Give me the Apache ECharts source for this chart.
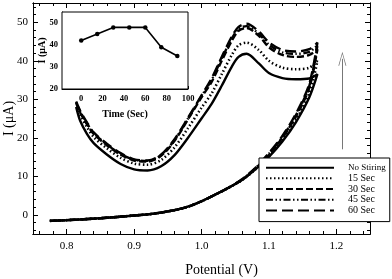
<!DOCTYPE html>
<html>
<head>
<meta charset="utf-8">
<script src="https://cdn.jsdelivr.net/npm/echarts@6/dist/echarts.min.js"></script>
<style>html,body{margin:0;padding:0;background:#fff}#c{width:392px;height:279px}</style>
</head>
<body>
<div id="c"></div>
<script>
// ---- data ----
const seriesNames = ['No Stiring', '15 Sec', '30 Sec', '45 Sec', '60 Sec'];
const forwardPotential = [0.775, 0.80, 0.85, 0.90, 0.93, 0.96, 0.98, 1.00, 1.02, 1.04, 1.06, 1.08, 1.10, 1.12, 1.14, 1.16];
const reversePotential = [1.172, 1.16, 1.14, 1.12, 1.10, 1.085, 1.067, 1.055, 1.045, 1.03, 1.015, 1.00, 0.98, 0.96, 0.94, 0.92, 0.90, 0.88, 0.86, 0.84, 0.83, 0.82, 0.814];

const noStiringForward = [-1.6, -1.4, -0.9, -0.2, 0.3, 1.2, 2.1, 3.5, 5.2, 7.0, 9.0, 11.8, 15.0, 19.0, 24.0, 30.5];
const sec15Forward     = [-1.6, -1.4, -0.9, -0.2, 0.3, 1.2, 2.1, 3.5, 5.2, 7.0, 9.0, 11.8, 15.2, 19.4, 24.6, 31.5];
const sec30Forward     = [-1.6, -1.4, -0.9, -0.2, 0.3, 1.2, 2.1, 3.5, 5.2, 7.0, 9.1, 12.0, 15.6, 20.0, 25.5, 33.0];
const sec45Forward     = [-1.6, -1.4, -0.9, -0.2, 0.3, 1.2, 2.1, 3.5, 5.2, 7.0, 9.1, 12.1, 15.8, 20.2, 25.8, 33.5];
const sec60Forward     = [-1.6, -1.4, -0.9, -0.2, 0.3, 1.2, 2.1, 3.5, 5.2, 7.0, 9.2, 12.2, 16.0, 20.5, 26.2, 34.0];

const noStiringReverse = [36.5, 35.4, 35.2, 35.5, 36.8, 39.3, 41.8, 41.0, 38.5, 33.5, 28.8, 25.0, 20.0, 15.5, 12.6, 11.5, 11.8, 13.2, 15.6, 18.6, 21.0, 24.4, 28.0];
const sec15Reverse     = [40.0, 38.2, 37.8, 38.2, 40.0, 42.8, 44.7, 44.0, 41.5, 36.5, 31.5, 27.8, 22.5, 17.5, 14.2, 13.0, 13.3, 14.8, 17.2, 20.2, 22.8, 26.0, 28.6];
const sec30Reverse     = [43.0, 41.5, 41.0, 41.5, 43.5, 46.5, 48.5, 47.8, 45.2, 40.0, 34.5, 30.5, 24.8, 19.2, 15.3, 13.8, 14.1, 15.6, 18.0, 21.0, 23.5, 26.5, 29.0];
const sec45Reverse     = [44.0, 42.3, 41.8, 42.2, 44.2, 47.0, 49.0, 48.3, 45.8, 40.6, 35.0, 30.8, 25.0, 19.4, 15.5, 14.0, 14.3, 15.8, 18.2, 21.2, 23.8, 26.8, 29.2];
const sec60Reverse     = [44.7, 43.0, 42.4, 42.8, 44.8, 47.6, 49.6, 48.8, 46.3, 41.0, 35.4, 31.0, 25.2, 19.6, 15.6, 14.1, 14.4, 16.0, 18.4, 21.4, 24.0, 27.0, 29.4];

const potentialLabels = [0.8, 0.9, 1.0, 1.1, 1.2];
const potentialMinorTicks = [0.76, 0.78, 0.82, 0.84, 0.86, 0.88, 0.92, 0.94, 0.96, 0.98, 1.02, 1.04, 1.06, 1.08, 1.12, 1.14, 1.16, 1.18, 1.22, 1.24];
const currentLabels = [0, 10, 20, 30, 40, 50];
const currentMinorTicks = [-4, -2, 2, 4, 6, 8, 12, 14, 16, 18, 22, 24, 26, 28, 32, 34, 36, 38, 42, 44, 46, 48, 52, 54];

const insetTime = [0, 15, 30, 45, 60, 75, 90];
const insetCurrent = [42, 45, 48, 48, 48, 39, 35];
const insetTimeLabels = [0, 20, 40, 60, 80, 100];
const insetCurrentLabels = [20, 30, 40, 50];

const arrowPotential = 1.209;
const arrowCurrentRange = [17, 40.5];

// ---- chart ----
const serif = 'Liberation Serif';
const chart = echarts.init(document.getElementById('c'), null, {renderer: 'canvas'});

function pairs(xs, ys) { return xs.map((x, i) => [x, ys[i]]); }
function loop(fwd, rev) { return pairs(forwardPotential, fwd).concat(pairs(reversePotential, rev)); }

function mainX(position, ticks, len, labels) {
  return {
    type: 'value', gridIndex: 0, position: position, min: 0.75, max: 1.25,
    axisLine: {show: true, onZero: false, lineStyle: {color: '#000', width: 1}},
    axisTick: {show: true, inside: true, length: len, customValues: ticks, lineStyle: {color: '#000'}},
    axisLabel: labels ? {show: true, customValues: potentialLabels, color: '#000', fontFamily: serif, fontSize: 11, margin: 7,
      formatter: v => v.toFixed(1)} : {show: false},
    splitLine: {show: false},
    name: labels ? 'Potential (V)' : '', nameLocation: 'middle', nameGap: 29, nameMoveOverlap: false,
    nameTextStyle: {color: '#000', fontFamily: serif, fontSize: 14, padding: [0, 0, 0, 40]}
  };
}
function mainY(position, ticks, len, labels) {
  return {
    type: 'value', gridIndex: 0, position: position, min: -5, max: 55,
    axisLine: {show: true, onZero: false, lineStyle: {color: '#000', width: 1}},
    axisTick: {show: true, inside: true, length: len, customValues: ticks, lineStyle: {color: '#000'}},
    axisLabel: labels ? {show: true, customValues: currentLabels, color: '#000', fontFamily: serif, fontSize: 11, margin: 5} : {show: false},
    splitLine: {show: false},
    name: labels ? 'I (\u03bcA)' : '', nameLocation: 'middle', nameGap: 17, nameRotate: 90, nameMoveOverlap: false,
    nameTextStyle: {color: '#000', fontFamily: serif, fontSize: 14}
  };
}

const lineTypes = ['solid', [1.5, 2.5], [7, 3], [7, 2.5, 1.5, 2.5, 1.5, 2.5], [11, 5]];
const fwds = [noStiringForward, sec15Forward, sec30Forward, sec45Forward, sec60Forward];
const revs = [noStiringReverse, sec15Reverse, sec30Reverse, sec45Reverse, sec60Reverse];

const series = seriesNames.map((n, i) => ({
  name: n, type: 'line', xAxisIndex: 0, yAxisIndex: 0,
  data: loop(fwds[i], revs[i]), symbol: 'none', smooth: 0.3, silent: true,
  lineStyle: {color: '#000', width: i === 1 ? 2.6 : 2.4, type: lineTypes[i], cap: 'butt'},
  itemStyle: {color: '#000'}, z: 3
}));

// arrow annotation
series.push({
  type: 'line', xAxisIndex: 0, yAxisIndex: 0, data: [], silent: true,
  markLine: {
    silent: true, animation: false,
    symbol: ['none', 'path://M5,0 L10,16 L9,16 L5,2.5 L1,16 L0,16 Z'], symbolSize: [8, 14],
    lineStyle: {color: '#777', width: 1, type: 'solid'},
    label: {show: false},
    data: [[{coord: [arrowPotential, arrowCurrentRange[0]]}, {coord: [arrowPotential, arrowCurrentRange[1]]}]]
  }
});

// inset
series.push({
  type: 'line', xAxisIndex: 4, yAxisIndex: 4, data: pairs(insetTime, insetCurrent),
  symbol: 'circle', symbolSize: 4.5, silent: true,
  lineStyle: {color: '#000', width: 1.6}, itemStyle: {color: '#000'}, z: 5
});

const option = {
  animation: false,
  backgroundColor: '#fff',
  grid: [
    {left: 33, right: 22, top: 3, bottom: 45, show: false, containLabel: false, outerBoundsMode: 'none'},
    {left: 62, right: 204, top: 12, bottom: 190, show: true, backgroundColor: '#fff', borderColor: '#000', borderWidth: 1, z: 4,
     containLabel: false, outerBoundsMode: 'none'}
  ],
  xAxis: [
    mainX('bottom', potentialLabels, 5, true),
    mainX('bottom', potentialMinorTicks, 3, false),
    mainX('top', potentialLabels, 5, false),
    mainX('top', potentialMinorTicks, 3, false),
    {
      type: 'value', gridIndex: 1, min: -18, max: 100, position: 'bottom',
      axisLine: {show: true, onZero: false, lineStyle: {color: '#000'}},
      axisTick: {show: true, inside: true, length: 3, customValues: insetTimeLabels, lineStyle: {color: '#000'}},
      axisLabel: {customValues: insetTimeLabels, color: '#000', fontFamily: serif, fontSize: 8.5, fontWeight: 'bold', margin: 5},
      splitLine: {show: false},
      name: 'Time (Sec)', nameLocation: 'middle', nameGap: 20, nameMoveOverlap: false,
      nameTextStyle: {color: '#000', fontFamily: serif, fontSize: 10, fontWeight: 'bold'}
    }
  ],
  yAxis: [
    mainY('left', currentLabels, 5, true),
    mainY('left', currentMinorTicks, 3, false),
    mainY('right', currentLabels, 5, false),
    mainY('right', currentMinorTicks, 3, false),
    {
      type: 'value', gridIndex: 1, min: 20, max: 55, position: 'left',
      axisLine: {show: true, onZero: false, lineStyle: {color: '#000'}},
      axisTick: {show: true, inside: true, length: 3, customValues: insetCurrentLabels, lineStyle: {color: '#000'}},
      axisLabel: {customValues: insetCurrentLabels, color: '#000', fontFamily: serif, fontSize: 8.5, fontWeight: 'bold', margin: 4},
      splitLine: {show: false},
      name: 'I (\u03bcA)', nameLocation: 'middle', nameGap: 15, nameRotate: 90, nameMoveOverlap: false,
      nameTextStyle: {color: '#000', fontFamily: serif, fontSize: 10, fontWeight: 'bold'}
    }
  ],
  legend: {
    data: seriesNames, orient: 'vertical', left: 259, top: 158,
    itemWidth: 68, itemHeight: 12, itemGap: 0.75,
    padding: [5, 4, 6, 6],
    borderColor: '#000', borderWidth: 1, backgroundColor: '#fff',
    selectedMode: false, z: 6,
    itemStyle: {opacity: 0},
    formatter: n => n === 'No Stiring' ? '{s|No Stiring}' : n,
    textStyle: {color: '#000', fontFamily: serif, fontSize: 10, padding: [0, 0, 0, 9],
      rich: {s: {fontFamily: serif, fontSize: 9, color: '#000'}}}
  },
  series: series
};
chart.setOption(option);
</script>
</body>
</html>
